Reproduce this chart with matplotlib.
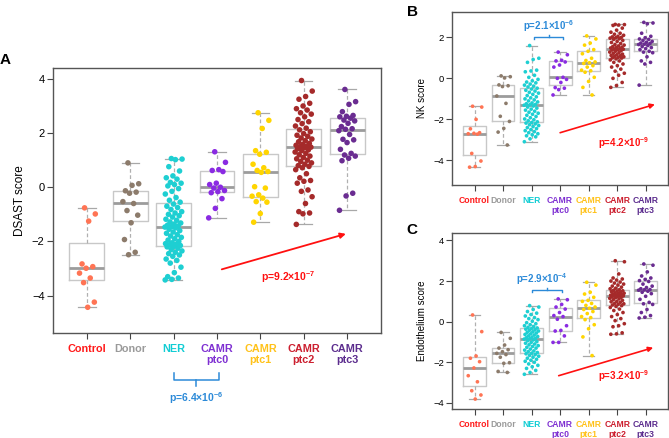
import numpy as np
import matplotlib
matplotlib.use("Agg")
import matplotlib.pyplot as plt

plt.rcParams['font.family'] = ['Liberation Sans', 'DejaVu Sans']
plt.rcParams['mathtext.fontset'] = 'custom'
plt.rcParams['mathtext.rm'] = 'Liberation Sans:bold'
plt.rcParams['mathtext.bf'] = 'Liberation Sans:bold'
plt.rcParams['mathtext.default'] = 'bf'

# ---------------- data ----------------
categories = ["Control", "Donor", "NER", "CAMR\nptc0", "CAMR\nptc1", "CAMR\nptc2", "CAMR\nptc3"]
label_colors = ["#FF1A1A", "#9A9A9A", "#12CDD4", "#7F30D2", "#FFC21A", "#CC1F2F", "#5C2D8E"]
point_colors = ["#FF7454", "#8C7B6B", "#1ECFD2", "#8A2BE2", "#FFD500", "#A52A2A", "#6A2C91"]

# Panel A: DSAST score
dsast_control = [-0.76, -0.985, -1.25, -2.83, -2.93, -2.99, -3.17, -3.35, -3.52, -4.24, -4.43]
dsast_donor = [0.90, 0.13, 0.07, -0.13, -0.18, -0.22, -0.53, -0.60, -0.86, -1.03, -1.31, -1.93, -2.40, -2.49]
dsast_ner = [1.06, 1.04, 1.02, 0.76, 0.6, 0.42, 0.35, 0.3, 0.18, 0.15, 0.1, 0.05, -0.05, -0.15, -0.25, -0.38, -0.48,
             -0.55, -0.62, -0.7, -0.75, -0.82, -0.9, -0.95, -1.0, -1.05, -1.1, -1.18, -1.22, -1.28, -1.32, -1.36, -1.4, -1.43, -1.45,
             -1.47, -1.5, -1.55, -1.6, -1.65, -1.7, -1.75, -1.8, -1.85, -1.9, -1.95, -2.0, -2.05, -2.08, -2.1, -2.12, -2.15, -2.18,
             -2.2, -2.25, -2.3, -2.35, -2.4, -2.45, -2.5, -2.55, -2.65, -2.7, -2.8, -2.95, -3.15, -3.3, -3.35, -3.4, -3.42]
dsast_ptc0 = [1.31, 0.92, 0.65, 0.62, 0.58, 0.15, 0.1, 0.0, -0.03, -0.12, -0.16, -0.2, -0.42, -0.78, -1.13]
dsast_ptc1 = [2.75, 2.47, 2.17, 1.35, 1.29, 1.22, 0.85, 0.72, 0.62, 0.58, 0.55, 0.02, -0.03, -0.28, -0.33, -0.40, -0.53, -0.55, -0.97, -1.29]
dsast_ptc2 = [3.94, 3.55, 3.35, 3.25, 3.1, 3.0, 2.9, 2.85, 2.75, 2.7, 2.6, 2.5, 2.42, 2.35, 2.26,
              2.18, 2.12, 2.05, 1.98, 1.92, 1.88, 1.82, 1.78, 1.72, 1.68, 1.62, 1.58, 1.55, 1.52, 1.5, 1.48,
              1.46, 1.42, 1.38, 1.35, 1.3, 1.25, 1.2, 1.15, 1.1, 1.05, 1.0, 0.95, 0.9, 0.85, 0.8, 0.77,
              0.72, 0.65, 0.5, 0.35, 0.25, 0.22, 0.15, -0.1, -0.15, -0.35, -0.6, -0.9, -0.95, -0.98, -1.37]
dsast_ptc3 = [3.61, 3.16, 3.06, 2.79, 2.65, 2.62, 2.60, 2.55, 2.48, 2.45, 2.36, 2.24, 2.16, 2.14, 2.09, 1.95,
              1.77, 1.75, 1.65, 1.40, 1.25, 1.19, 1.15, 1.07, 0.98, -0.22, -0.32, -0.85]

# Panel B: NK score
nk_control = [-1.36, -1.40, -2.0, -2.46, -2.65, -2.68, -2.70, -2.72, -3.66, -4.03, -4.30, -4.33]
nk_donor = [0.12, 0.08, 0.02, -0.32, -0.36, -0.40, -0.86, -1.22, -1.85, -2.1, -2.44, -2.62, -3.25]
nk_ner = [1.60, 0.98, 0.92, 0.78, 0.40, 0.36, 0.32, 0.15, 0.05, -0.05, -0.12, -0.18, -0.22, -0.28, -0.33, -0.38, -0.42,
          -0.48, -0.52, -0.58, -0.62, -0.68, -0.72, -0.78, -0.84, -0.9, -0.95, -1.0, -1.05, -1.1, -1.15, -1.2, -1.24, -1.27, -1.29,
          -1.31, -1.35, -1.4, -1.45, -1.5, -1.55, -1.6, -1.65, -1.7, -1.75, -1.8, -1.86, -1.92, -1.98, -2.02, -2.07, -2.12, -2.15,
          -2.18, -2.22, -2.26, -2.3, -2.35, -2.4, -2.45, -2.5, -2.55, -2.6, -2.65, -2.7, -2.75, -2.8, -2.85, -2.95, -3.09]
nk_ptc0 = [1.28, 1.15, 0.88, 0.85, 0.80, 0.65, 0.55, 0.05, 0.0, -0.05, -0.20, -0.45, -0.48, -0.55, -0.81]
nk_ptc1 = [2.07, 1.92, 1.72, 1.62, 1.40, 1.32, 1.2, 0.98, 0.87, 0.80, 0.76, 0.73, 0.62, 0.55, 0.40, 0.37, 0.30, 0.05, -0.15, -0.44, -0.81]
nk_ptc2 = [2.63, 2.62, 2.60, 2.58, 2.45, 2.35, 2.25, 2.2, 2.15, 2.1, 2.05, 2.02, 2.0, 1.98, 1.96,
           1.93, 1.9, 1.85, 1.8, 1.75, 1.7, 1.65, 1.62, 1.58, 1.55, 1.52, 1.5, 1.48, 1.45, 1.43, 1.42,
           1.40, 1.38, 1.35, 1.32, 1.28, 1.25, 1.22, 1.18, 1.15, 1.12, 1.1, 1.08, 1.05, 1.02, 1.0, 0.99,
           0.95, 0.9, 0.85, 0.78, 0.7, 0.62, 0.55, 0.45, 0.35, 0.25, 0.15, 0.0, -0.2, -0.35, -0.44]
nk_ptc3 = [2.73, 2.70, 2.66, 2.2, 2.05, 1.98, 1.92, 1.9, 1.85, 1.8, 1.76, 1.72, 1.7, 1.67, 1.65, 1.6, 1.55,
           1.5, 1.45, 1.4, 1.32, 1.28, 1.25, 1.05, 0.85, 0.78, 0.70, -0.33]

# Panel C: Endothelium score
endo_control = [0.33, -0.49, -1.69, -1.80, -1.97, -2.28, -2.66, -2.96, -3.40, -3.61, -3.81]
endo_donor = [-0.53, -0.82, -1.15, -1.30, -1.38, -1.48, -1.56, -1.62, -1.75, -2.02, -2.05, -2.45, -2.50]
endo_ner = [0.79, 0.72, 0.6, 0.5, 0.42, 0.35, 0.28, 0.2, 0.15, 0.1, 0.02, -0.05, -0.1, -0.15, -0.2, -0.24, -0.28,
            -0.31, -0.34, -0.37, -0.4, -0.43, -0.46, -0.5, -0.53, -0.56, -0.6, -0.63, -0.66, -0.7, -0.73, -0.76, -0.79, -0.82, -0.84,
            -0.86, -0.9, -0.94, -0.98, -1.02, -1.06, -1.1, -1.14, -1.18, -1.22, -1.26, -1.3, -1.35, -1.4, -1.44, -1.48, -1.52, -1.55,
            -1.58, -1.62, -1.66, -1.7, -1.75, -1.8, -1.85, -1.9, -1.95, -2.0, -2.08, -2.15, -2.22, -2.3, -2.4, -2.5, -2.59]
endo_ptc0 = [1.12, 1.08, 0.85, 0.72, 0.62, 0.45, 0.30, 0.25, 0.12, -0.20, -0.43, -0.46, -0.70, -1.02, -1.02]
endo_ptc1 = [1.94, 1.80, 1.45, 1.36, 1.20, 1.05, 1.00, 0.90, 0.80, 0.72, 0.66, 0.60, 0.50, 0.40, 0.25, 0.20, 0.10, -0.15, -0.35, -0.75, -1.67]
endo_ptc2 = [3.0, 2.95, 2.35, 2.15, 2.1, 2.05, 2.0, 1.95, 1.9, 1.85, 1.8, 1.75, 1.7, 1.65, 1.62,
             1.57, 1.55, 1.52, 1.5, 1.48, 1.45, 1.42, 1.4, 1.38, 1.36, 1.34, 1.32, 1.3, 1.29, 1.28, 1.27,
             1.25, 1.22, 1.2, 1.18, 1.15, 1.12, 1.08, 1.05, 1.0, 0.98, 0.95, 0.9, 0.88, 0.85, 0.82, 0.79,
             0.75, 0.7, 0.62, 0.55, 0.45, 0.35, 0.25, 0.15, 0.05, -0.1, -0.2, -0.25, -0.55, -0.6, -0.62]
endo_ptc3 = [2.84, 2.78, 2.45, 2.25, 2.15, 2.08, 2.02, 1.98, 1.85, 1.75, 1.68, 1.62, 1.58, 1.57, 1.55, 1.5,
             1.45, 1.38, 1.25, 1.1, 0.95, 0.88, 0.85, 0.6, 0.45, 0.3, 0.22, 0.18]

panel_a = [dsast_control, dsast_donor, dsast_ner, dsast_ptc0, dsast_ptc1, dsast_ptc2, dsast_ptc3]
panel_b = [nk_control, nk_donor, nk_ner, nk_ptc0, nk_ptc1, nk_ptc2, nk_ptc3]
panel_c = [endo_control, endo_donor, endo_ner, endo_ptc0, endo_ptc1, endo_ptc2, endo_ptc3]

RED = "#FF1010"
BLUE = "#2C8AD8"


def draw_panel(ax, groups, ylabel, ylim, yticks, jit, msize, tick_fs, lab_fs):
    pos = np.arange(1, len(groups) + 1)
    ax.boxplot(groups, positions=pos, widths=0.8, whis=(0, 100), showfliers=False,
               capwidths=0.4,
               boxprops=dict(color="#C8C8C8", linewidth=1.0),
               medianprops=dict(color="#9C9C9C", linewidth=2.0),
               whiskerprops=dict(color="#B0B0B0", linewidth=0.9, linestyle=(0, (3, 2))),
               capprops=dict(color="#A8A8A8", linewidth=0.9),
               zorder=1)
    for i, vals in enumerate(groups):
        n = len(vals)
        offs = jit * (2 * ((np.arange(n) * 0.618034 + 0.37) % 1.0) - 1)
        ax.scatter(pos[i] + offs, vals, s=msize, color=point_colors[i], edgecolors='none', zorder=3)
    ax.set_xlim(0.22, 7.78)
    ax.set_ylim(*ylim)
    ax.set_yticks(yticks)
    ax.set_xticks(pos)
    ax.set_xticklabels(categories, fontweight='bold', fontsize=lab_fs, linespacing=1.15)
    for t, c in zip(ax.get_xticklabels(), label_colors):
        t.set_color(c)
    ax.tick_params(axis='y', labelsize=tick_fs, length=4, width=0.8, color="#444444", pad=2)
    ax.tick_params(axis='x', length=4, width=0.8, color="#444444", pad=4)
    for s in ax.spines.values():
        s.set_color("#555555")
        s.set_linewidth(1.0)
    ax.set_ylabel(ylabel)


fig = plt.figure(figsize=(6.69, 4.38), dpi=100)

axA = fig.add_axes([0.0792, 0.2397, 0.4903, 0.6043])
draw_panel(axA, panel_a, "DSAST score", (-5.38, 4.39), [-4, -2, 0, 2, 4], 0.2, 16, 8, 7.8)
axA.yaxis.label.set_fontsize(8.5)
axA.annotate('', xy=(6.97, -1.72), xytext=(4.11, -3.03),
             arrowprops=dict(arrowstyle='-|>', color=RED, lw=1.3, mutation_scale=8, shrinkA=0, shrinkB=0))
axA.text(5.65, -3.3, r'p=9.2$\times$10$^{-7}$', color=RED, fontsize=7.5, fontweight='bold', ha='center', va='center')
axA.plot([3.0, 3.0, 4.04, 4.04], [-6.87, -7.12, -7.12, -6.87], color=BLUE, lw=1.1, clip_on=False)
axA.plot([3.52, 3.52], [-7.12, -7.32], color=BLUE, lw=1.1, clip_on=False)
axA.text(3.52, -7.8, r'p=6.4$\times$10$^{-6}$', color=BLUE, fontsize=7.5, fontweight='bold',
         ha='center', va='center', clip_on=False)

axB = fig.add_axes([0.676, 0.5776, 0.3225, 0.3957])
draw_panel(axB, panel_b, "NK score", (-5.2, 3.25), [-4, -2, 0, 2], 0.26, 7, 6.8, 6.2)
axB.yaxis.label.set_fontsize(7)
axB.annotate('', xy=(7.32, -1.27), xytext=(4.0, -2.65),
             arrowprops=dict(arrowstyle='-|>', color=RED, lw=1.2, mutation_scale=7, shrinkA=0, shrinkB=0))
axB.text(6.21, -3.17, r'p=4.2$\times$10$^{-9}$', color=RED, fontsize=7, fontweight='bold', ha='center', va='center')
axB.plot([3.1, 3.1, 4.1, 4.1], [1.9, 2.03, 2.03, 1.9], color=BLUE, lw=1.0)
axB.plot([3.6, 3.6], [2.03, 2.13], color=BLUE, lw=1.0)
axB.text(3.6, 2.55, r'p=2.1$\times$10$^{-6}$', color=BLUE, fontsize=7, fontweight='bold', ha='center', va='center')

axC = fig.add_axes([0.676, 0.0662, 0.3225, 0.4011])
draw_panel(axC, panel_c, "Endothelium score", (-4.3, 4.35), [-4, -2, 0, 2, 4], 0.26, 7, 6.8, 6.2)
axC.yaxis.label.set_fontsize(7)
axC.annotate('', xy=(7.26, -1.28), xytext=(3.95, -2.66),
             arrowprops=dict(arrowstyle='-|>', color=RED, lw=1.2, mutation_scale=7, shrinkA=0, shrinkB=0))
axC.text(6.21, -2.66, r'p=3.2$\times$10$^{-9}$', color=RED, fontsize=7, fontweight='bold', ha='center', va='center')
axC.plot([3.0, 3.0, 4.08, 4.08], [1.45, 1.56, 1.56, 1.45], color=BLUE, lw=1.0)
axC.plot([3.54, 3.54], [1.56, 1.67], color=BLUE, lw=1.0)
axC.text(3.37, 2.1, r'p=2.9$\times$10$^{-4}$', color=BLUE, fontsize=7, fontweight='bold', ha='center', va='center')

fig.text(0.0075, 0.863, "A", fontsize=11, fontweight='bold', ha='center', va='center')
fig.text(0.616, 0.972, "B", fontsize=11, fontweight='bold', ha='center', va='center')
fig.text(0.616, 0.475, "C", fontsize=11, fontweight='bold', ha='center', va='center')

fig.savefig("out.png", dpi=100)
